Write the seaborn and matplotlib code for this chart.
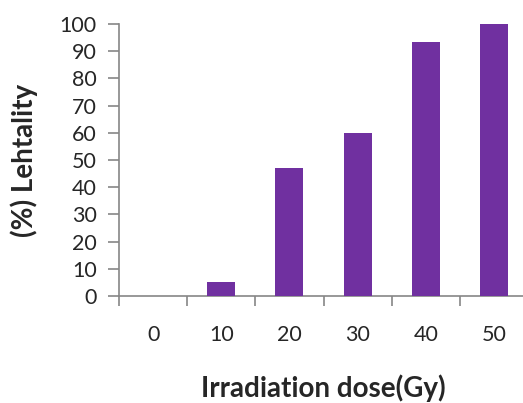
import matplotlib
matplotlib.use("Agg")
import matplotlib.pyplot as plt
import seaborn as sns
import pandas as pd

doses = ["0", "10", "20", "30", "40", "50"]
lethality = [0, 5, 47, 60, 93.3, 100]
y_ticks = [0, 10, 20, 30, 40, 50, 60, 70, 80, 90, 100]

sns.set_style("white")
plt.rcParams['font.family'] = ['Lato', 'DejaVu Sans']

df = pd.DataFrame({"dose": doses, "lethality": lethality})

W, H = 523, 403
fig = plt.figure(figsize=(W / 100, H / 100), dpi=100)
left, right, top, bottom = 119, 528, 24, 296
ax = fig.add_axes([left / W, 1 - bottom / H, (right - left) / W, (bottom - top) / H])

sns.barplot(data=df, x="dose", y="lethality", color="#7030A0", width=0.41,
            saturation=1, ax=ax, zorder=3, linewidth=0)

grey = "#868686"
ax.set_ylim(0, 100)
ax.set_xlim(-0.5, len(doses) - 0.5)
ax.set_yticks(y_ticks)
ax.set_yticklabels([str(t) for t in y_ticks], fontsize=15.5)
for s in ["top", "right"]:
    ax.spines[s].set_visible(False)
for s in ["left", "bottom"]:
    ax.spines[s].set_color(grey)
    ax.spines[s].set_linewidth(1.2)

# x ticks at category boundaries, labels at centres
ax.set_xticks([i - 0.5 for i in range(len(doses) + 1)], minor=False)
ax.set_xticklabels([""] * (len(doses) + 1))
ax.set_xticks(range(len(doses)), minor=True)
ax.set_xticklabels(doses, minor=True, fontsize=15.5)
ax.tick_params(axis="x", which="major", direction="out", length=7, width=1.2, color=grey, bottom=True)
ax.tick_params(axis="x", which="minor", length=0, pad=21, bottom=True)
ax.tick_params(axis="y", direction="out", length=8, width=1.2, color=grey, left=True, pad=8)

ax.set_xlabel("")
ax.set_ylabel("")
fig.text(323 / W, 1 - 388 / H, "Irradiation dose(Gy)", fontsize=20, fontweight="bold",
         ha="center", va="center")
fig.text(24 / W, 1 - 160 / H, "(%) Lehtality", fontsize=20, fontweight="bold",
         ha="center", va="center", rotation=90)

fig.savefig("out.png", dpi=100)
